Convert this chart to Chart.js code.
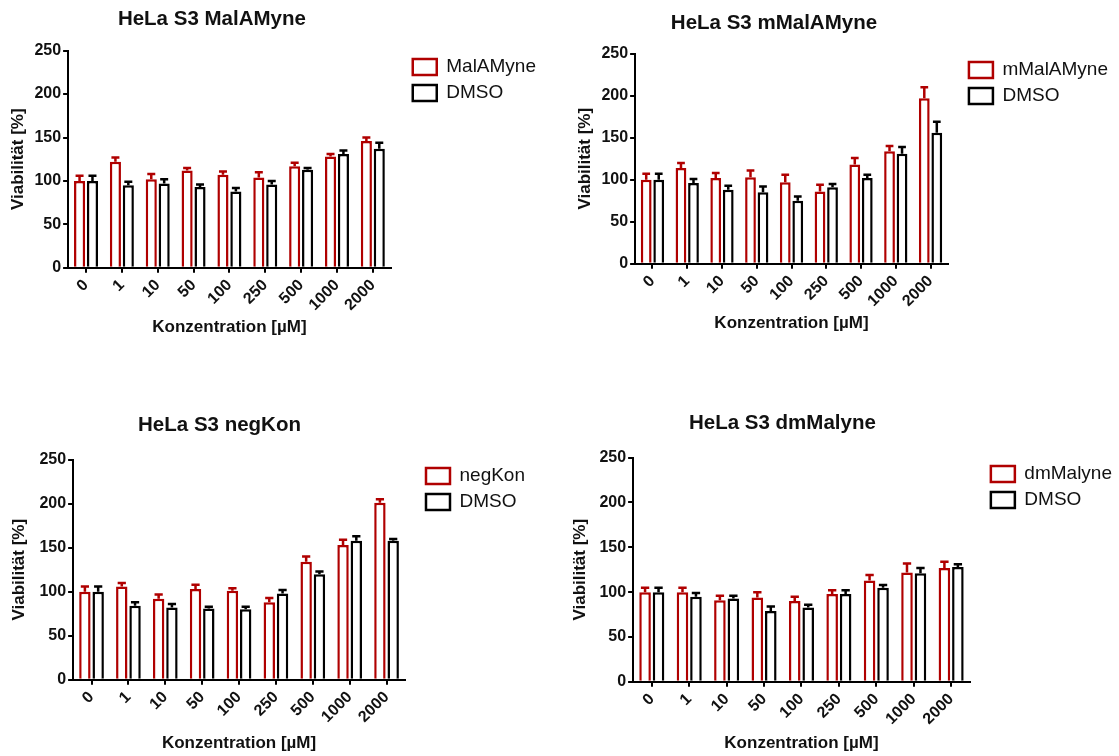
<!DOCTYPE html>
<html>
<head>
<meta charset="utf-8">
<script src="https://cdn.jsdelivr.net/npm/chart.js@4.4.1/dist/chart.umd.min.js"></script>
<style>
    html, body { margin: 0; padding: 0; background: #fff; overflow: hidden; }
    body { width: 1119px; height: 756px; position: relative; }
    .panel { position: absolute; }
</style>
</head>
<body>
<div class="panel" style="left:0px; top:0px; width:546px; height:340px;"><canvas id="c_malamyne"></canvas></div>
<div class="panel" style="left:560px; top:0px; width:558px; height:336px;"><canvas id="c_mmalamyne"></canvas></div>
<div class="panel" style="left:0px; top:400px; width:535px; height:356px;"><canvas id="c_negkon"></canvas></div>
<div class="panel" style="left:560px; top:400px; width:562px; height:356px;"><canvas id="c_dmmalyne"></canvas></div>

<script>
// Konzentrationen (x-Achse)
const konzentration = ['0', '1', '10', '50', '100', '250', '500', '1000', '2000'];
const yTicks = [0, 50, 100, 150, 200, 250];

// HeLa S3 MalAMyne
const malamyne = [100, 122, 102, 112, 107, 104, 117, 128, 146];
const malamyneErr = [6, 5, 6, 3, 4, 6, 4, 3, 4];
const malamyneDmso = [100, 95, 97, 93, 88, 96, 113, 131, 137];
const malamyneDmsoErr = [6, 4, 5, 3, 4, 4, 2, 4, 7];

// HeLa S3 mMalAMyne
const mmalamyne = [100, 114, 102, 103, 97, 86, 118, 134, 197];
const mmalamyneErr = [7, 6, 6, 8, 9, 8, 8, 6, 13];
const mmalamyneDmso = [100, 96, 88, 85, 75, 91, 102, 131, 156];
const mmalamyneDmsoErr = [7, 5, 5, 7, 5, 4, 4, 8, 13];

// HeLa S3 negKon
const negkon = [100, 106, 92, 103, 101, 88, 134, 153, 201];
const negkonErr = [6, 4, 5, 5, 3, 5, 6, 6, 4];
const negkonDmso = [100, 84, 82, 81, 80, 98, 120, 158, 158];
const negkonDmsoErr = [6, 4, 4, 2, 3, 4, 3, 5, 2];

// HeLa S3 dmMalyne
const dmmalyne = [100, 100, 91, 94, 90, 98, 113, 122, 127];
const dmmalyneErr = [5, 5, 5, 6, 5, 4, 6, 10, 7];
const dmmalyneDmso = [100, 95, 93, 79, 83, 98, 105, 121, 128];
const dmmalyneDmsoErr = [5, 4, 3, 5, 3, 4, 3, 6, 3];

const ROT = '#b00000';
const SCHWARZ = '#000000';
const TEXT = '#111111';

Chart.defaults.font.family = "'Liberation Sans', Arial, sans-serif";
Chart.defaults.color = TEXT;

// Fehlerbalken nur nach oben (SEM), wie in GraphPad
const errorBars = {
    id: 'errorBars',
    afterDatasetsDraw(chart) {
        const ctx = chart.ctx;
        const yScale = chart.scales.y;
        chart.data.datasets.forEach((ds, i) => {
            const meta = chart.getDatasetMeta(i);
            ctx.save();
            ctx.strokeStyle = ds.borderColor;
            ctx.lineWidth = 2.5;
            meta.data.forEach((bar, j) => {
                const top = yScale.getPixelForValue(ds.data[j] + ds.errors[j]);
                const half = bar.width * 0.36;
                ctx.beginPath();
                ctx.moveTo(bar.x, bar.y);
                ctx.lineTo(bar.x, top);
                ctx.moveTo(bar.x - half, top);
                ctx.lineTo(bar.x + half, top);
                ctx.stroke();
            });
            ctx.restore();
        });
    }
};

// Titel über Achse + Diagramm zentrieren (nicht nur über die Zeichenfläche)
const titelVerschieben = {
    id: 'titelVerschieben',
    afterLayout(chart) {
        chart.titleBlock.left = chart.scales.y.left + 27;
    }
};

function panel(id, titel, name, werte, fehler, dmso, dmsoFehler, geo) {
    const ctx = document.getElementById(id);
    return new Chart(ctx, {
        type: 'bar',
        data: {
            labels: konzentration,
            datasets: [
                {
                    label: name,
                    data: werte,
                    errors: fehler,
                    backgroundColor: '#ffffff',
                    borderColor: ROT,
                    borderWidth: 2.5,
                    categoryPercentage: 0.72,
                    barPercentage: 0.86
                },
                {
                    label: 'DMSO',
                    data: dmso,
                    errors: dmsoFehler,
                    backgroundColor: '#ffffff',
                    borderColor: SCHWARZ,
                    borderWidth: 2.5,
                    categoryPercentage: 0.72,
                    barPercentage: 0.86
                }
            ]
        },
        options: {
            responsive: true,
            maintainAspectRatio: false,
            animation: false,
            layout: { padding: { left: geo.padLeft, right: 0, top: 0, bottom: 0 } },
            scales: {
                x: {
                    offset: true,
                    grid: {
                        display: true,
                        drawOnChartArea: false,
                        drawTicks: true,
                        tickLength: 5,
                        offset: false,
                        color: SCHWARZ,
                        lineWidth: 2
                    },
                    border: { display: true, color: SCHWARZ, width: 2 },
                    ticks: {
                        autoSkip: false,
                        minRotation: 45,
                        maxRotation: 45,
                        padding: 3,
                        color: TEXT,
                        font: { size: 16, weight: 'bold' }
                    },
                    title: {
                        display: true,
                        text: 'Konzentration [µM]',
                        color: TEXT,
                        padding: { top: geo.xTitleTop, bottom: 2 },
                        font: { size: 17, weight: 'bold' }
                    }
                },
                y: {
                    min: 0,
                    max: 250,
                    afterBuildTicks: scale => { scale.ticks = yTicks.map(v => ({ value: v })); },
                    grid: {
                        display: true,
                        drawOnChartArea: false,
                        drawTicks: true,
                        tickLength: 5,
                        color: SCHWARZ,
                        lineWidth: 2
                    },
                    border: { display: true, color: SCHWARZ, width: 2 },
                    ticks: {
                        padding: 2,
                        color: TEXT,
                        font: { size: 16, weight: 'bold' }
                    },
                    title: {
                        display: true,
                        text: 'Viabilität [%]',
                        color: TEXT,
                        padding: { top: 2, bottom: geo.yTitleBottom },
                        font: { size: 17, weight: 'bold' }
                    }
                },
                // leere Achse rechts: Abstand zwischen Diagramm und Legende
                abstand: {
                    type: 'linear',
                    position: 'right',
                    display: true,
                    grid: { display: false },
                    border: { display: false },
                    ticks: { display: false },
                    afterFit: scale => { scale.width = geo.gap; }
                }
            },
            plugins: {
                title: {
                    display: true,
                    text: titel,
                    color: TEXT,
                    fullSize: false,
                    font: { size: 20.5, weight: 'bold' },
                    padding: { top: geo.titleTop, bottom: geo.titleBottom }
                },
                legend: {
                    position: 'right',
                    align: 'start',
                    fullSize: false,
                    maxWidth: 220,
                    labels: {
                        boxWidth: 24,
                        boxHeight: 16,
                        padding: 7,
                        color: TEXT,
                        font: { size: 19 }
                    }
                },
                tooltip: { enabled: false }
            }
        },
        plugins: [errorBars, titelVerschieben]
    });
}

panel('c_malamyne', 'HeLa S3 MalAMyne', 'MalAMyne', malamyne, malamyneErr, malamyneDmso, malamyneDmsoErr,
    { padLeft: 6, yTitleBottom: 4, xTitleTop: 0, gap: 15, titleTop: 7, titleBottom: 19 });
panel('c_mmalamyne', 'HeLa S3 mMalAMyne', 'mMalAMyne', mmalamyne, mmalamyneErr, mmalamyneDmso, mmalamyneDmsoErr,
    { padLeft: 13, yTitleBottom: 4, xTitleTop: 0, gap: 14, titleTop: 11, titleBottom: 18 });
panel('c_negkon', 'HeLa S3 negKon', 'negKon', negkon, negkonErr, negkonDmso, negkonDmsoErr,
    { padLeft: 7, yTitleBottom: 8, xTitleTop: 4, gap: 14, titleTop: 13, titleBottom: 22 });
panel('c_dmmalyne', 'HeLa S3 dmMalyne', 'dmMalyne', dmmalyne, dmmalyneErr, dmmalyneDmso, dmmalyneDmsoErr,
    { padLeft: 8, yTitleBottom: 7, xTitleTop: 2, gap: 14, titleTop: 11, titleBottom: 22 });
</script>
</body>
</html>
